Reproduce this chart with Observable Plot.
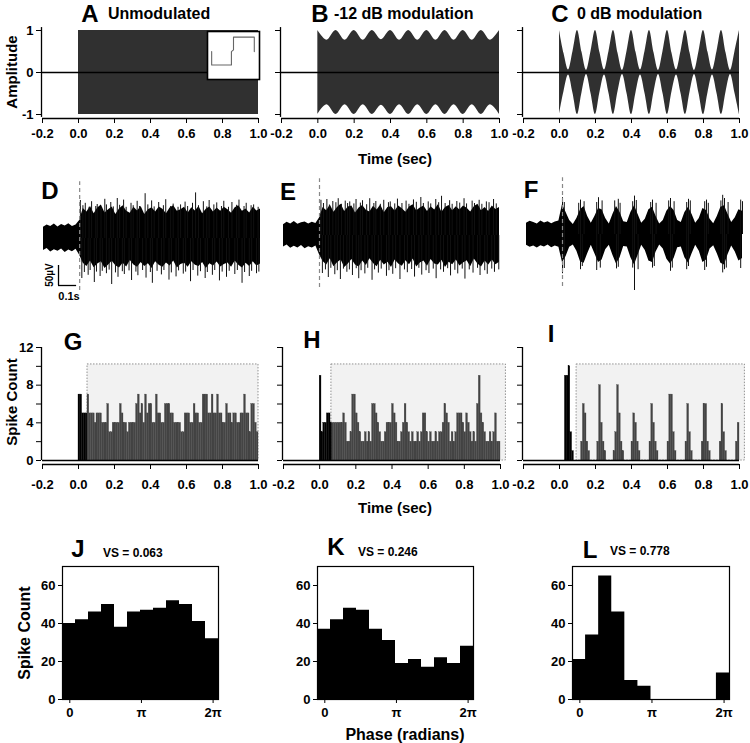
<!DOCTYPE html>
<html><head><meta charset="utf-8">
<script src="https://cdn.jsdelivr.net/npm/d3@7"></script>
<script src="https://cdn.jsdelivr.net/npm/@observablehq/plot@0.6"></script>
<style>
body{margin:0;background:#fff;}
#fig{position:relative;width:750px;height:743px;overflow:hidden;font-family:"Liberation Sans",Arial,sans-serif;color:#000;background:#fff;}
#fig svg{position:absolute;overflow:visible;background:transparent;}
.lbl{position:absolute;font-weight:bold;white-space:nowrap;line-height:1;}
</style></head>
<body><div id="fig"></div>
<script>
// ---------------- DATA ----------------
const timeTicks = [-0.2, 0, 0.2, 0.4, 0.6, 0.8, 1.0];
// stimulus envelopes (A, B, C)
const envA_t = [0, 1.0];
const envA = [1, 1];
const envB_t = [0,0.05,0.1,0.15,0.2,0.25,0.3,0.35,0.4,0.45,0.5,0.55,0.6,0.65,0.7,0.75,0.8,0.85,0.9,0.95,1.0];
const envB = [1,0.77,1,0.77,1,0.77,1,0.78,1,0.77,1,0.77,1,0.77,1,0.77,1,0.77,1,0.77,1];
const envC_t = [0,0.025,0.05,0.075,0.1,0.125,0.15,0.175,0.2,0.225,0.25,0.275,0.3,0.325,0.35,0.375,0.4,0.425,0.45,0.475,0.5,0.525,0.55,0.575,0.6,0.625,0.65,0.675,0.7,0.725,0.75,0.775,0.8,0.825,0.85,0.875,0.9,0.925,0.95,0.975,1.0];
const envC = [1,0.45,0.06,0.5,1,0.48,0.05,0.5,1,0.47,0.06,0.5,1,0.46,0.05,0.5,1,0.48,0.06,0.5,1,0.47,0.05,0.5,1,0.46,0.06,0.5,1,0.47,0.05,0.5,1,0.48,0.06,0.5,1,0.47,0.05,0.5,1];
// inset of A (step waveform)
const insetX = [0.08,0.08,0.46,0.46,0.5,0.5,0.9,0.9];
const insetY = [0.48,0,0,0.48,0.54,1,1,0.48];

// raw recordings (D, E, F): envelope of the dense trace (µV), sampled every 20 ms from -0.2 s
const traceT = d3.range(61).map(i => +(-0.2 + i * 0.02).toFixed(2));
const dTop = [28,34,30,36,29,35,31,37,30,34,45, 75,66,80,62,76,84,64,72,79,60,74,82,68,63,78,69,80,60,72,77,66,79,73,62,76,82,68,72,78,64,77,69,80,62,73,79,66,76,68,78,72,63,77,82,68,74,64,78,69,74];
const dBot = [-30,-25,-34,-28,-32,-26,-35,-29,-33,-27,-42, -62,-70,-56,-73,-64,-58,-75,-66,-57,-68,-74,-62,-71,-55,-66,-72,-60,-70,-63,-75,-58,-67,-72,-61,-69,-56,-74,-65,-62,-72,-58,-67,-70,-60,-75,-63,-69,-59,-71,-65,-61,-72,-56,-67,-74,-62,-70,-58,-69,-64];
const dUpT = [0.004,0.018,0.031,0.052,0.066,0.089,0.097,0.118,0.139,0.148,0.172,0.186,0.208,0.221,0.243,0.257,0.284,0.296,0.318,0.331,0.362,0.377,0.398,0.412,0.437,0.463,0.476,0.503,0.517,0.544,0.558,0.583,0.597,0.624,0.641,0.657,0.684,0.703,0.716,0.742,0.758,0.784,0.797,0.823,0.842,0.868,0.881,0.909,0.921,0.948,0.962,0.987];
const dUpV = [95,82,88,78,92,80,85,76,98,84,90,79,100,83,96,78,88,82,93,80,112,84,94,79,90,82,97,80,86,78,84,91,80,88,114,82,92,79,95,84,89,80,93,78,90,83,96,80,88,82,84,78];
const dDnT = [0.012,0.026,0.047,0.058,0.081,0.093,0.113,0.125,0.148,0.163,0.177,0.198,0.212,0.236,0.247,0.273,0.287,0.311,0.322,0.348,0.367,0.391,0.402,0.428,0.452,0.466,0.494,0.507,0.533,0.547,0.573,0.586,0.613,0.627,0.653,0.668,0.694,0.706,0.734,0.747,0.773,0.788,0.812,0.827,0.858,0.872,0.898,0.912,0.938,0.951,0.978,0.991];
const dDnV = [-100,-85,-92,-80,-110,-84,-95,-82,-88,-79,-115,-86,-97,-83,-90,-81,-105,-84,-93,-80,-99,-85,-112,-82,-91,-80,-104,-86,-96,-81,-89,-84,-108,-80,-94,-83,-100,-85,-92,-80,-106,-84,-97,-82,-90,-80,-112,-85,-95,-82,-88,-84];
const eTop = [27,33,29,35,28,32,34,29,33,30,44, 70,62,76,58,70,78,60,71,74,56,69,75,63,59,73,64,76,57,70,72,61,74,67,58,71,77,62,69,74,60,72,64,77,58,70,75,62,72,64,74,68,59,72,78,62,70,60,74,65,70];
const eBot = [-29,-24,-32,-27,-31,-25,-33,-28,-31,-26,-48, -65,-74,-58,-78,-68,-61,-80,-71,-60,-74,-79,-64,-75,-58,-70,-78,-62,-74,-67,-80,-61,-71,-77,-63,-73,-59,-79,-69,-64,-77,-60,-71,-74,-62,-80,-67,-73,-61,-76,-69,-63,-78,-59,-71,-79,-64,-74,-61,-73,-67];
const eUpT = [0.008,0.022,0.041,0.055,0.074,0.091,0.104,0.122,0.143,0.156,0.168,0.191,0.203,0.227,0.239,0.262,0.279,0.302,0.313,0.338,0.357,0.383,0.393,0.418,0.433,0.458,0.481,0.497,0.522,0.538,0.563,0.577,0.604,0.618,0.646,0.662,0.678,0.698,0.723,0.737,0.763,0.779,0.803,0.817,0.848,0.861,0.887,0.902,0.927,0.942,0.967,0.982];
const eUpV = [88,80,90,76,85,82,92,78,86,80,84,79,90,81,87,77,92,80,85,78,88,82,84,79,91,80,86,78,89,83,95,80,84,79,90,82,98,80,87,78,85,81,92,79,86,80,88,78,84,82,90,79];
const eDnT = [0.016,0.033,0.049,0.063,0.085,0.099,0.116,0.133,0.152,0.166,0.183,0.204,0.218,0.231,0.252,0.268,0.292,0.306,0.327,0.343,0.372,0.386,0.407,0.423,0.447,0.472,0.488,0.512,0.528,0.552,0.568,0.592,0.608,0.632,0.648,0.673,0.689,0.712,0.728,0.752,0.768,0.793,0.808,0.832,0.853,0.878,0.892,0.918,0.932,0.957,0.972,0.996];
const eDnV = [-95,-86,-105,-82,-98,-88,-110,-84,-92,-86,-100,-83,-108,-88,-96,-82,-112,-86,-94,-84,-102,-88,-97,-83,-110,-86,-93,-85,-104,-82,-99,-88,-95,-84,-108,-86,-92,-83,-101,-87,-96,-84,-109,-86,-94,-82,-100,-88,-97,-84,-92,-86];
const fTop = [28,33,30,26,34,29,32,27,31,34,75, 55,35,25,40,62,70,45,28,45,65,62,40,26,50,70,55,32,30,55,72,50,28,38,62,68,45,26,35,58,70,60,35,30,55,68,50,28,40,65,60,38,27,45,68,72,50,30,42,62,58];
const fBot = [-27,-32,-29,-34,-28,-31,-26,-33,-29,-32,-70, -55,-32,-26,-42,-68,-72,-48,-27,-48,-70,-64,-38,-27,-52,-74,-58,-30,-31,-58,-76,-52,-27,-40,-66,-70,-44,-26,-36,-62,-74,-60,-33,-31,-58,-72,-48,-27,-42,-70,-64,-36,-28,-48,-72,-76,-50,-29,-44,-66,-60];
const fUpT = [0.0,0.01,0.09,0.1,0.12,0.19,0.2,0.22,0.29,0.31,0.32,0.39,0.4,0.41,0.49,0.5,0.52,0.59,0.6,0.62,0.69,0.7,0.71,0.79,0.8,0.81,0.88,0.89,0.9,0.92,0.99,1.0];
const fUpV = [92,80,78,86,82,80,92,84,84,88,78,82,96,85,80,86,78,84,90,82,80,88,84,82,86,78,84,98,90,80,86,82];
const fDnT = [0.0,0.01,0.1,0.11,0.19,0.21,0.3,0.31,0.39,0.4,0.42,0.5,0.51,0.6,0.61,0.69,0.7,0.79,0.8,0.89,0.9,0.91,0.99];
const fDnV = [-98,-85,-88,-80,-90,-84,-86,-82,-84,-140,-88,-84,-80,-92,-84,-88,-80,-90,-82,-96,-88,-84,-85];
const onsetDash = [0];

// PSTHs (G, H, I): spike counts in 10-ms bins from 0 to 1 s
const binStarts = d3.range(100).map(i => +(i * 0.01).toFixed(2));
const psthG = [7,7,5,5,5,7,5,5,5,4, 5,5,5,4,4,4,6,3,3,4, 4,4,4,6,5,4,4,3,4,4, 4,4,6,7,5,6,4,7,5,6, 6,4,4,7,5,5,4,4,6,6, 6,5,5,4,4,4,4,3,3,5, 5,5,4,4,6,5,5,4,4,7, 7,7,5,5,7,5,5,7,5,5, 4,4,6,5,5,4,5,5,4,4, 5,5,7,5,5,3,6,6,4,3];
const psthH = [9,3,4,4,5,5,4,4,4,4, 4,4,4,5,4,2,2,3,7,7, 5,4,3,2,2,3,2,3,2,6, 6,5,4,3,2,2,3,4,4,4, 6,5,4,2,2,3,4,6,4,3, 2,3,2,2,3,2,3,5,5,3, 2,3,2,2,3,2,3,3,4,6, 5,4,2,3,2,3,5,5,5,4, 3,5,4,3,2,3,2,6,9,5, 4,3,2,2,3,2,3,5,2,2];
const psthI = [0,0,0,9,9,10,3,1,0,0, 0,0,2,6,5,2,1,0,0,0, 0,2,8,4,2,1,0,0,0,0, 1,3,8,5,2,1,0,0,0,0, 2,5,4,2,1,0,0,0,0,0, 2,6,4,2,1,0,0,0,0,0, 2,7,7,3,1,0,0,0,0,0, 2,6,3,1,0,0,0,0,0,2, 6,6,2,1,0,0,0,0,0,2, 6,3,1,0,0,0,0,0,2,4];
const windowG = [0.05, 1.0], windowH = [0.065, 1.03], windowI = [0.095, 1.03];
const windowTop = 10.2;
const countTicks = [0, 2, 4, 6, 8, 10, 12];

// phase histograms (J, K, L): 12 bins
const phaseJ = [40,42,46,50,38,46,47,48,52,50,41,32];
const phaseK = [37,42,48,47,37,31,19,21,17,22,19,28];
const phaseL = [21,34,65,46,10,7,0,0,0,0,0,14];
const vsJ = "0.063", vsK = "0.246", vsL = "0.778";
const phaseStart = -0.32, phaseWidth = 0.57;
const phaseTicks = [0, Math.PI, 2 * Math.PI];
const phaseTickLabels = ["0", "π", "2π"];
const phaseCountTicks = [0, 20, 40, 60];

// ---------------- DRAWING ----------------
const fig = document.getElementById("fig");
const FONT = "Liberation Sans, Arial, sans-serif";
function place(svg, left, top) { svg.style.left = left + "px"; svg.style.top = top + "px"; fig.appendChild(svg); return svg; }
function label(txt, x, y, size, opt = {}) {
  const d = document.createElement("div");
  d.className = "lbl"; d.textContent = txt;
  d.style.fontSize = size + "px"; d.style.left = x + "px"; d.style.top = y + "px";
  const ax = opt.anchor === "start" ? "0" : opt.anchor === "end" ? "-100%" : "-50%";
  d.style.transform = `translate(${ax},-50%)`;
  if (opt.rotate) { d.style.transform = `translate(-50%,-50%) rotate(${opt.rotate}deg)`; d.style.transformOrigin = "50% 50%"; }
  fig.appendChild(d);
}
const baseStyle = {fontFamily: FONT, fontSize: "13px", fontWeight: "bold", background: "transparent", overflow: "visible"};

// Row 1: stimuli
function wavePanel(xl, xr, envT, env, showLabels) {
  const svg = Plot.plot({
    width: (xr - xl) + 50, height: 140,
    marginLeft: 40, marginRight: 10, marginTop: 20, marginBottom: 36,
    style: baseStyle,
    x: {domain: [-0.2, 1.0], label: null},
    y: {domain: [-1, 1], label: null},
    marks: [
      Plot.areaY(env, {x: envT, y1: env.map(v => -v), y2: env, fill: "#303030", curve: "catmull-rom"}),
      Plot.ruleY([0], {stroke: "#000", strokeWidth: 1.3}),
      Plot.ruleX([-0.2], {y1: -1.07, y2: 1.07, dx: -1, stroke: "#000", strokeWidth: 1.3}),
      Plot.ruleY([-1], {dy: 4, stroke: "#000", strokeWidth: 1.3}),
      Plot.axisY({ticks: [-1, 0, 1], tickSize: 5, dx: -1, tickPadding: 3, tickFormat: d => showLabels ? String(d) : "", fontWeight: "bold", label: null}),
      Plot.axisX({ticks: timeTicks, tickSize: 5, dy: 4, tickPadding: 5, tickFormat: d => d.toFixed(1), fontWeight: "bold", label: null})
    ]
  });
  place(svg, xl - 40, 10);
}
wavePanel(42, 258, envA_t, envA, true);
wavePanel(281, 499, envB_t, envB, false);
wavePanel(523, 739, envC_t, envC, false);
// inset
place(Plot.plot({
  width: 52, height: 48, margin: 0, style: {background: "#fff", overflow: "visible"},
  x: {domain: [0, 1], axis: null}, y: {domain: [-0.52, 1.2], axis: null},
  marks: [
    Plot.frame({fill: "#fff"}),
    Plot.line(insetY, {x: insetX, y: insetY, stroke: "#666", strokeWidth: 1.1}),
    Plot.frame({stroke: "#000", strokeWidth: 1.6})
  ]
}), 207, 31);

label("A", 90, 14, 24);
label("Unmodulated", 108, 14, 16, {anchor: "start"});
label("B", 320, 14, 24);
label("-12 dB modulation", 334, 14, 16, {anchor: "start"});
label("C", 560, 14, 24);
label("0 dB modulation", 577, 14, 16, {anchor: "start"});
label("Amplitude", 11, 72, 15, {rotate: -90});
label("Time (sec)", 395, 158, 15);

// Row 2: raw traces
function tracePanel(xl, xr, cy, top, bot, upT, upV, dnT, dnV, scaleBar) {
  const h = 120;
  const marks = [
    Plot.areaY(traceT, {x: traceT, y1: bot, y2: top, fill: "#000", curve: "linear"}),
    Plot.ruleX(upT, {x: upT, y1: 0, y2: upV, stroke: "#111", strokeWidth: 1}),
    Plot.ruleX(dnT, {x: dnT, y1: 0, y2: dnV, stroke: "#111", strokeWidth: 1}),
    Plot.ruleX(onsetDash, {y1: -130, y2: 142, stroke: "#888", strokeWidth: 1.2, strokeDasharray: "4,3"})
  ];
  if (scaleBar) {
    marks.push(Plot.ruleX([-0.117], {y1: -117.5, y2: -67.5, stroke: "#000", strokeWidth: 1.3}));
    marks.push(Plot.ruleY([-117.5], {x1: -0.117, x2: -0.017, stroke: "#000", strokeWidth: 1.3}));
  }
  const svg = Plot.plot({
    width: xr - xl, height: h, margin: 0, style: baseStyle,
    x: {domain: [-0.2, 1.0], axis: null}, y: {domain: [-150, 150], axis: null},
    marks
  });
  place(svg, xl, cy - h / 2);
}
tracePanel(43, 260, 238, dTop, dBot, dUpT, dUpV, dDnT, dDnV, true);
tracePanel(283, 499, 235, eTop, eBot, eUpT, eUpV, eDnT, eDnV, false);
tracePanel(526, 742, 234, fTop, fBot, fUpT, fUpV, fDnT, fDnV, false);
label("D", 50, 191, 24);
label("E", 288, 192, 24);
label("F", 531, 190, 24);
label("50µV", 50, 275, 10, {rotate: -90});
label("0.1s", 69, 296, 11);

// Row 3: PSTHs
function psthPanel(xl, xr, counts, win, showLabels) {
  const data = binStarts.map((t, i) => ({t, c: counts[i]}));
  const svg = Plot.plot({
    width: (xr - xl) + 50, height: 160,
    marginLeft: 40, marginRight: 10, marginTop: 10, marginBottom: 37,
    style: baseStyle,
    x: {domain: [-0.2, 1.0], label: null},
    y: {domain: [0, 12], label: null},
    marks: [
      Plot.rect([win], {x1: d => d[0], x2: d => d[1], y1: 0, y2: windowTop, fill: "#f2f2f2", stroke: "#777", strokeWidth: 0.8, strokeDasharray: "1.5,1.5"}),
      Plot.rectY(data, {x1: "t", x2: d => d.t + 0.01, y: "c", fill: d => d.t < win[0] ? "#000" : "#444", stroke: d => d.t < win[0] ? "#000" : "#444", strokeWidth: 0.3, inset: 0}),
      Plot.ruleY([0], {stroke: "#000", strokeWidth: 1.5}),
      Plot.ruleX([-0.2], {y1: 0, y2: 12, dx: -1, stroke: "#000", strokeWidth: 1.3}),
      Plot.ruleY([0], {dy: 4, stroke: "#000", strokeWidth: 1.3}),
      Plot.axisY({ticks: countTicks, tickSize: 5, dx: -1, tickPadding: 3, tickFormat: d => showLabels && d % 4 === 0 ? String(d) : "", fontWeight: "bold", label: null}),
      Plot.axisX({ticks: timeTicks, tickSize: 5, dy: 4, tickPadding: 10, tickFormat: d => d.toFixed(1), fontWeight: "bold", label: null})
    ]
  });
  place(svg, xl - 40, 337);
}
psthPanel(42, 258, psthG, windowG, true);
psthPanel(283, 500, psthH, windowH, false);
psthPanel(523, 739, psthI, windowI, false);
label("Spike Count", 11, 402, 15, {rotate: -90});
label("G", 73, 342, 24);
label("H", 312, 340, 24);
label("I", 551, 334, 24);
label("Time (sec)", 395, 507, 15);

// Row 4: phase histograms (drawn as one stepped area so bins join without seams)
function phasePanel(xl, xr, counts) {
  const pts = counts.map((c, i) => ({x: phaseStart + i * phaseWidth, c}));
  pts.push({x: phaseStart + counts.length * phaseWidth, c: counts[counts.length - 1]});
  const svg = Plot.plot({
    width: (xr - xl) + 52, height: 175,
    marginLeft: 40, marginRight: 12, marginTop: 10, marginBottom: 32,
    style: {...baseStyle, fontSize: "13px"},
    x: {domain: [phaseStart, phaseStart + 12 * phaseWidth], label: null},
    y: {domain: [0, 70], label: null},
    marks: [
      Plot.areaY(pts, {x: "x", y: "c", fill: "#000", curve: "step-after"}),
      Plot.frame({stroke: "#000", strokeWidth: 1.2}),
      Plot.axisY({ticks: phaseCountTicks, tickSize: 4, tickPadding: 3, tickFormat: d => String(d), fontWeight: "bold", label: null}),
      Plot.axisX({ticks: phaseTicks, tickSize: 4, tickPadding: 4, tickFormat: (d, i) => phaseTickLabels[i], fontWeight: "bold", label: null})
    ]
  });
  place(svg, xl - 40, 556);
}
phasePanel(62, 218, phaseJ);
phasePanel(317, 473, phaseK);
phasePanel(572, 729, phaseL);
label("J", 78, 549, 24);
label("VS = " + vsJ, 103, 553, 12, {anchor: "start"});
label("K", 336, 547, 24);
label("VS = " + vsK, 358, 552, 12, {anchor: "start"});
label("L", 590, 550, 24);
label("VS = " + vsL, 610, 551, 12, {anchor: "start"});
label("Spike Count", 25, 633, 16, {rotate: -90});
label("Phase (radians)", 405, 735, 16);
</script>
</body></html>
